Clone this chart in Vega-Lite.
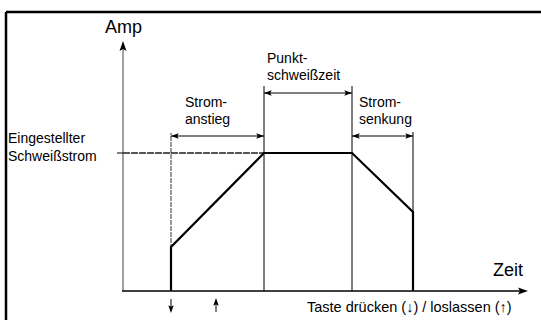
{
  "$schema": "https://vega.github.io/schema/vega-lite/v6.json",
  "width": 541,
  "height": 320,
  "padding": 0,
  "autosize": {"type": "none"},
  "background": "white",
  "config": {"view": {"stroke": null}, "font": "Liberation Sans"},
  "datasets": {
    "segs": [
      {"kind": "frame", "t": -11.7, "a": 27.9, "t2": -11.7, "a2": -3.5},
      {"kind": "frame", "t": -11.7, "a": 27.9, "t2": 42.5, "a2": 27.9},
      {"kind": "yaxis", "t": 0, "a": 0, "t2": 0, "a2": 24.2},
      {"kind": "xaxis", "t": -0.1, "a": 0, "t2": 39.8, "a2": 0},
      {"kind": "guide", "t": -0.6, "a": 13.8, "t2": 0, "a2": 13.8},
      {"kind": "level", "t": 0, "a": 13.8, "t2": 14.1, "a2": 13.8},
      {"kind": "guide2", "t": 4.8, "a": 0, "t2": 4.8, "a2": 15.8},
      {"kind": "guide", "t": 14.1, "a": 0, "t2": 14.1, "a2": 20.5},
      {"kind": "guide", "t": 22.9, "a": 0, "t2": 22.9, "a2": 20.5},
      {"kind": "guide", "t": 29.0, "a": 0, "t2": 29.0, "a2": 15.9},
      {"kind": "dim", "t": 4.8, "a": 15.5, "t2": 14.1, "a2": 15.5},
      {"kind": "dim", "t": 14.1, "a": 19.8, "t2": 22.9, "a2": 19.8},
      {"kind": "dim", "t": 22.9, "a": 15.5, "t2": 29.0, "a2": 15.5},
      {"kind": "dim", "t": 4.8, "a": -0.8, "t2": 4.8, "a2": -2.0},
      {"kind": "dim", "t": 9.3, "a": -0.9, "t2": 9.3, "a2": -2.1}
    ],
    "trace": [
      {"i": 0, "t": 4.8, "a": 0},
      {"i": 1, "t": 4.8, "a": 4.4},
      {"i": 2, "t": 14.1, "a": 13.8},
      {"i": 3, "t": 22.9, "a": 13.8},
      {"i": 4, "t": 29.0, "a": 7.9},
      {"i": 5, "t": 29.0, "a": 0}
    ],
    "heads": [
      {"kind": "dim", "t": 4.8, "a": 15.5, "dir": "left"},
      {"kind": "dim", "t": 14.1, "a": 15.5, "dir": "right"},
      {"kind": "dim", "t": 14.1, "a": 19.8, "dir": "left"},
      {"kind": "dim", "t": 22.9, "a": 19.8, "dir": "right"},
      {"kind": "dim", "t": 22.9, "a": 15.5, "dir": "left"},
      {"kind": "dim", "t": 29.0, "a": 15.5, "dir": "right"},
      {"kind": "dim", "t": 4.8, "a": -2.2, "dir": "down"},
      {"kind": "dim", "t": 9.3, "a": -0.7, "dir": "up"},
      {"kind": "axis", "t": 0, "a": 25.0, "dir": "up"},
      {"kind": "axis", "t": 40.5, "a": 0, "dir": "right"}
    ],
    "labels": [
      {"grp": "big", "label": "Amp", "t": -1.8, "a": 25.8},
      {"grp": "big", "label": "Zeit", "t": 37.0, "a": 1.5},
      {"grp": "normal", "label": "Eingestellter", "t": -11.5, "a": 14.8},
      {"grp": "normal", "label": "Schweißstrom", "t": -11.5, "a": 13.0},
      {"grp": "normal", "label": "Strom-", "t": 6.2, "a": 18.4},
      {"grp": "normal", "label": "anstieg", "t": 6.2, "a": 16.7},
      {"grp": "normal", "label": "Punkt-", "t": 14.4, "a": 22.8},
      {"grp": "normal", "label": "schweißzeit", "t": 14.4, "a": 21.1},
      {"grp": "normal", "label": "Strom-", "t": 23.6, "a": 18.4},
      {"grp": "normal", "label": "senkung", "t": 23.6, "a": 16.7},
      {"grp": "caption", "label": "Taste drücken (↓) / loslassen (↑)", "t": 18.4, "a": -2.1}
    ]
  },
  "encoding": {
    "x": {"field": "t", "type": "quantitative", "scale": {"domain": [-12.3, 41.8], "nice": false, "zero": false}, "axis": null},
    "y": {"field": "a", "type": "quantitative", "scale": {"domain": [-2.9, 29.1], "nice": false, "zero": false}, "axis": null}
  },
  "layer": [
    {
      "data": {"name": "segs"},
      "transform": [{"filter": "datum.kind === 'frame'"}],
      "mark": {"type": "rule", "color": "black", "strokeWidth": 2.5},
      "encoding": {"x2": {"field": "t2"}, "y2": {"field": "a2"}}
    },
    {
      "data": {"name": "segs"},
      "transform": [{"filter": "datum.kind === 'yaxis'"}],
      "mark": {"type": "rule", "color": "#808080", "strokeWidth": 1.5},
      "encoding": {"x2": {"field": "t2"}, "y2": {"field": "a2"}}
    },
    {
      "data": {"name": "segs"},
      "transform": [{"filter": "datum.kind === 'xaxis'"}],
      "mark": {"type": "rule", "color": "black", "strokeWidth": 1.5},
      "encoding": {"x2": {"field": "t2"}, "y2": {"field": "a2"}}
    },
    {
      "data": {"name": "segs"},
      "transform": [{"filter": "datum.kind === 'guide' || datum.kind === 'dim'"}],
      "mark": {"type": "rule", "color": "black", "strokeWidth": 1},
      "encoding": {"x2": {"field": "t2"}, "y2": {"field": "a2"}}
    },
    {
      "data": {"name": "segs"},
      "transform": [{"filter": "datum.kind === 'guide2'"}],
      "mark": {"type": "rule", "color": "#333333", "strokeWidth": 1, "strokeDash": [5, 1]},
      "encoding": {"x2": {"field": "t2"}, "y2": {"field": "a2"}}
    },
    {
      "data": {"name": "segs"},
      "transform": [{"filter": "datum.kind === 'level'"}],
      "mark": {"type": "rule", "color": "#222222", "strokeWidth": 1.5, "strokeDash": [7, 1]},
      "encoding": {"x2": {"field": "t2"}, "y2": {"field": "a2"}}
    },
    {
      "data": {"name": "trace"},
      "mark": {"type": "line", "color": "black", "strokeWidth": 2.2, "strokeJoin": "miter"},
      "encoding": {"order": {"field": "i", "type": "quantitative"}}
    },
    {
      "data": {"name": "heads"},
      "transform": [{"filter": "datum.kind === 'dim'"}],
      "mark": {"type": "point", "filled": true, "color": "black", "opacity": 1, "size": 60, "strokeWidth": 0},
      "encoding": {
        "shape": {"field": "dir", "type": "nominal", "legend": null,
          "scale": {"domain": ["left", "right", "up", "down"],
            "range": ["M0,0L2,-0.7L1.6,0L2,0.7Z", "M0,0L-2,-0.7L-1.6,0L-2,0.7Z", "M0,0L-0.7,2L0,1.6L0.7,2Z", "M0,0L-0.7,-2L0,-1.6L0.7,-2Z"]}}
      }
    },
    {
      "data": {"name": "heads"},
      "transform": [{"filter": "datum.kind === 'axis'"}],
      "mark": {"type": "point", "filled": true, "color": "black", "opacity": 1, "size": 100, "strokeWidth": 0},
      "encoding": {
        "shape": {"field": "dir", "type": "nominal", "legend": null}
      }
    },
    {
      "data": {"name": "labels"},
      "transform": [{"filter": "datum.grp === 'normal'"}],
      "mark": {"type": "text", "align": "left", "baseline": "alphabetic", "fontSize": 14, "font": "Liberation Sans", "color": "black"},
      "encoding": {"text": {"field": "label"}}
    },
    {
      "data": {"name": "labels"},
      "transform": [{"filter": "datum.grp === 'caption'"}],
      "mark": {"type": "text", "align": "left", "baseline": "alphabetic", "fontSize": 14.5, "font": "Liberation Sans", "color": "black"},
      "encoding": {"text": {"field": "label"}}
    },
    {
      "data": {"name": "labels"},
      "transform": [{"filter": "datum.grp === 'big'"}],
      "mark": {"type": "text", "align": "left", "baseline": "alphabetic", "fontSize": 18, "font": "Liberation Sans", "color": "black"},
      "encoding": {"text": {"field": "label"}}
    }
  ]
}
